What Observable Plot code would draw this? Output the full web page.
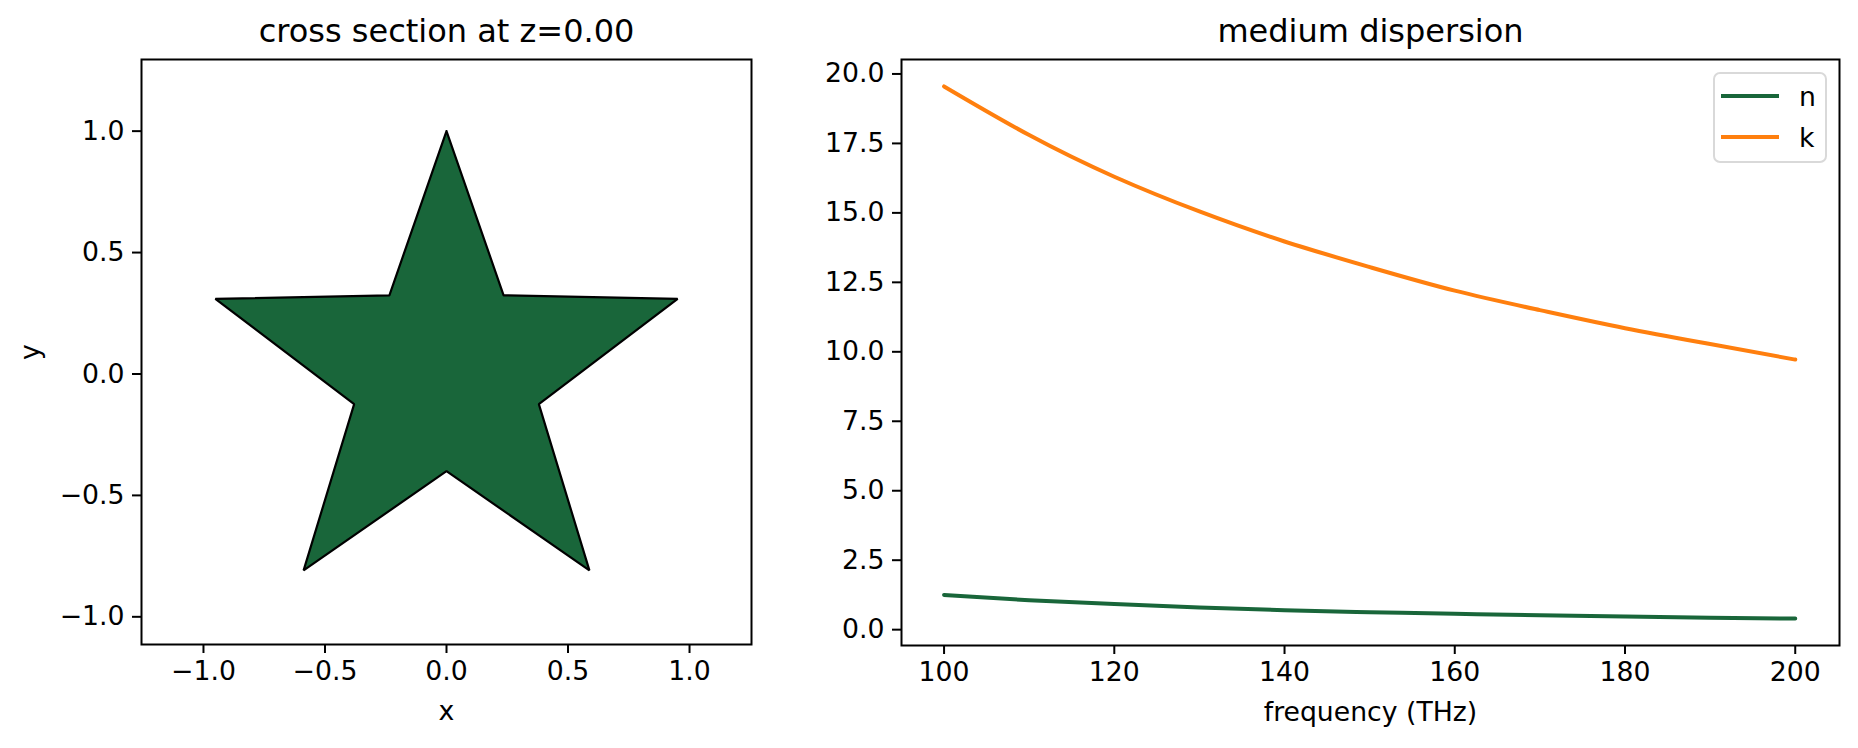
<!DOCTYPE html>
<html lang="en">
<head>
<meta charset="UTF-8">
<title>cross section and dispersion</title>
<script src="https://cdn.jsdelivr.net/npm/d3@7"></script>
<script src="https://cdn.jsdelivr.net/npm/@observablehq/plot@0.6"></script>
<style>
  body { margin: 0; background: #fff; font-family: "DejaVu Sans", sans-serif; }
  #page { position: relative; width: 1858px; height: 748px; overflow: hidden; }
  #left { position: absolute; left: 0; top: 0; }
  #right { position: absolute; left: 800px; top: 0; }
  #legend {
    position: absolute; left: 1713px; top: 72px; width: 110px; height: 87px;
    border: 2px solid #d9d9d9; border-radius: 7px; background: rgba(255,255,255,0.8);
  }
  .row { position: absolute; left: 6px; height: 30px; display: flex; align-items: center; font-size: 26.7px; color: #000; }
  .row span { display: inline-block; width: 58px; height: 4px; margin-right: 20px; }
</style>
</head>
<body>
<div id="page">
  <div id="left"></div>
  <div id="right"></div>
  <div id="legend"></div>
</div>
<script>
// star outline (cross section at z = 0)
const starX = [0, 0.235, 0.951, 0.380, 0.588, 0, -0.588, -0.380, -0.951, -0.235, 0];
const starY = [1, 0.324, 0.309, -0.124, -0.809, -0.4, -0.809, -0.124, 0.309, 0.324, 1];

// medium dispersion
const freq = [100, 110, 120, 130, 140, 150, 160, 170, 180, 190, 200];
const nVals = [1.25, 1.06, 0.92, 0.80, 0.70, 0.63, 0.57, 0.52, 0.47, 0.43, 0.40];
const kVals = [19.55, 17.8, 16.3, 15.05, 13.97, 13.05, 12.2, 11.5, 10.85, 10.28, 9.72];
const seriesNames = ["n", "k"];
const seriesColors = ["#19663a", "#ff7f0e"];

const star = starX.map((x, i) => ({x, y: starY[i]}));
const disp = [];
freq.forEach((f, i) => {
  disp.push({f, v: nVals[i], s: "n"});
  disp.push({f, v: kVals[i], s: "k"});
});

const fmt = d3.format(".1f");
const font = {fontFamily: "DejaVu Sans", fontSize: "26.7px", color: "#000", background: "#fff"};

const left = Plot.plot({
  width: 800, height: 748,
  marginLeft: 141, marginRight: 49, marginTop: 59, marginBottom: 104,
  style: font,
  x: {domain: [-1.255, 1.255]},
  y: {domain: [-1.114, 1.295]},
  marks: [
    Plot.line(star, {x: "x", y: "y", fill: "#19663a", stroke: "#000", strokeWidth: 2.2, strokeLinejoin: "miter"}),
    Plot.frame({stroke: "#000", strokeWidth: 2}),
    Plot.axisX({ticks: [-1, -0.5, 0, 0.5, 1], tickFormat: fmt, tickSize: 9, tickPadding: 8, strokeWidth: 2,
      label: "x", labelAnchor: "center", labelArrow: false, labelOffset: 75}),
    Plot.axisY({ticks: [-1, -0.5, 0, 0.5, 1], tickFormat: fmt, tickSize: 9, tickPadding: 8, strokeWidth: 2,
      label: "y", labelAnchor: "center", labelArrow: false, labelOffset: 121}),
    Plot.text(["cross section at z=0.00"], {frameAnchor: "top", dy: -40, fontSize: 32})
  ]
});
document.querySelector("#left").append(left);

const right = Plot.plot({
  width: 1058, height: 748,
  marginLeft: 101, marginRight: 19, marginTop: 59, marginBottom: 103,
  style: font,
  x: {domain: [95, 205.2]},
  y: {domain: [-0.57, 20.52]},
  color: {domain: seriesNames, range: seriesColors},
  marks: [
    Plot.line(disp, {x: "f", y: "v", z: "s", stroke: "s", strokeWidth: 4, curve: "natural"}),
    Plot.frame({stroke: "#000", strokeWidth: 2}),
    Plot.axisX({ticks: [100, 120, 140, 160, 180, 200], tickSize: 9, tickPadding: 8, strokeWidth: 2,
      label: "frequency (THz)", labelAnchor: "center", labelArrow: false, labelOffset: 75}),
    Plot.axisY({ticks: d3.range(0, 20.01, 2.5), tickFormat: fmt, tickSize: 9, tickPadding: 8, strokeWidth: 2,
      label: null}),
    Plot.text(["medium dispersion"], {frameAnchor: "top", dy: -40, fontSize: 32})
  ]
});
document.querySelector("#right").append(right);

// legend box like matplotlib's upper right legend
const legend = document.querySelector("#legend");
seriesNames.forEach((name, i) => {
  const row = document.createElement("div");
  row.className = "row";
  row.style.top = (7 + i * 41) + "px";
  const sw = document.createElement("span");
  sw.style.background = seriesColors[i];
  row.append(sw, name);
  legend.append(row);
});
</script>
</body>
</html>
